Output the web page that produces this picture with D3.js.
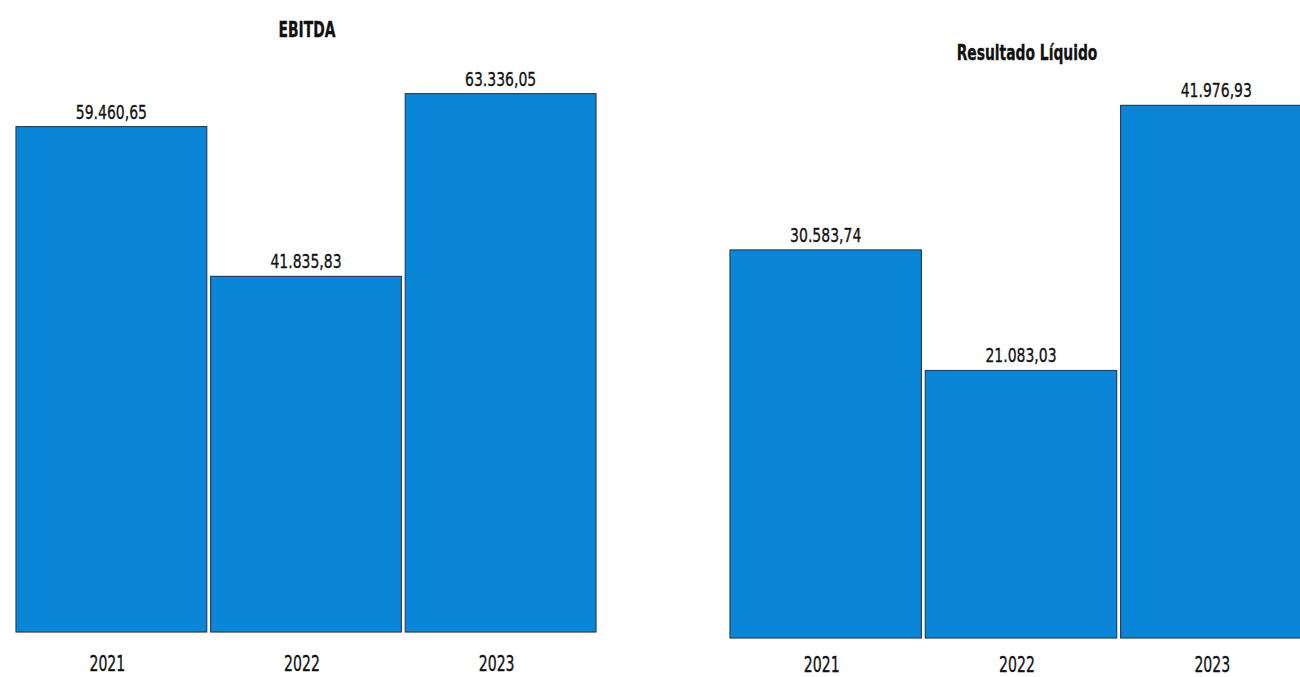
<!DOCTYPE html>
<html>
<head>
<meta charset="utf-8">
<script src="https://cdn.jsdelivr.net/npm/d3@7"></script>
<style>
  html, body { margin: 0; padding: 0; background: #fff; }
  text { font-family: "DejaVu Sans", sans-serif; fill: #111; stroke: #111; stroke-width: 0.35px; }
</style>
</head>
<body>
<svg id="chart" width="1300" height="677"></svg>
<script>
const years = ["2021", "2022", "2023"];
const ebitda = [59460.65, 41835.83, 63336.05];
const resultado = [30583.74, 21083.03, 41976.93];
const titles = ["EBITDA", "Resultado Líquido"];

const barColor = "#0a86d8";
const fmt = v => v.toLocaleString("pt-BR", { minimumFractionDigits: 2, maximumFractionDigits: 2 });

const svg = d3.select("#chart");

// the scanned text is a tall, narrow face: squeeze it horizontally
const squeeze = (x, y, sx) => `translate(${x},${y}) scale(${sx},1)`;

const panels = [
  { title: titles[0], values: ebitda, x0: 16, x1: 596, base: 632, top: 37, max: 70000, titleX: 307, titleY: 37, yearY: 671 },
  { title: titles[1], values: resultado, x0: 730, x1: 1312, base: 638, top: 67, max: 45000, titleX: 1027, titleY: 60, yearY: 672 }
];

panels.forEach(p => {
  const g = svg.append("g");

  const x = d3.scaleBand()
    .domain(years)
    .range([p.x0, p.x1])
    .paddingInner(0.02)
    .paddingOuter(0);

  const y = d3.scaleLinear()
    .domain([0, p.max])
    .range([p.base, p.top]);

  const data = years.map((yr, i) => ({ year: yr, value: p.values[i] }));

  // title
  g.append("text")
    .attr("transform", squeeze(p.titleX, p.titleY, 0.66))
    .attr("text-anchor", "middle")
    .style("font-size", "21px")
    .style("font-weight", "bold")
    .text(p.title);

  // bars
  g.selectAll("rect")
    .data(data)
    .join("rect")
    .attr("x", d => x(d.year))
    .attr("y", d => y(d.value))
    .attr("width", x.bandwidth())
    .attr("height", d => y(0) - y(d.value))
    .attr("fill", barColor)
    .attr("stroke", "#25435e")
    .attr("stroke-width", 1.2);

  // value labels
  g.selectAll("text.val")
    .data(data)
    .join("text")
    .attr("class", "val")
    .attr("transform", d => squeeze(x(d.year) + x.bandwidth() / 2, y(d.value) - 8, 0.7))
    .attr("text-anchor", "middle")
    .style("font-size", "20px")
    .text(d => fmt(d.value));

  // year labels
  g.selectAll("text.yr")
    .data(data)
    .join("text")
    .attr("class", "yr")
    .attr("transform", d => squeeze(x(d.year) + x.bandwidth() / 2 - 4, p.yearY, 0.64))
    .attr("text-anchor", "middle")
    .style("font-size", "22px")
    .text(d => d.year);
});
</script>
</body>
</html>
